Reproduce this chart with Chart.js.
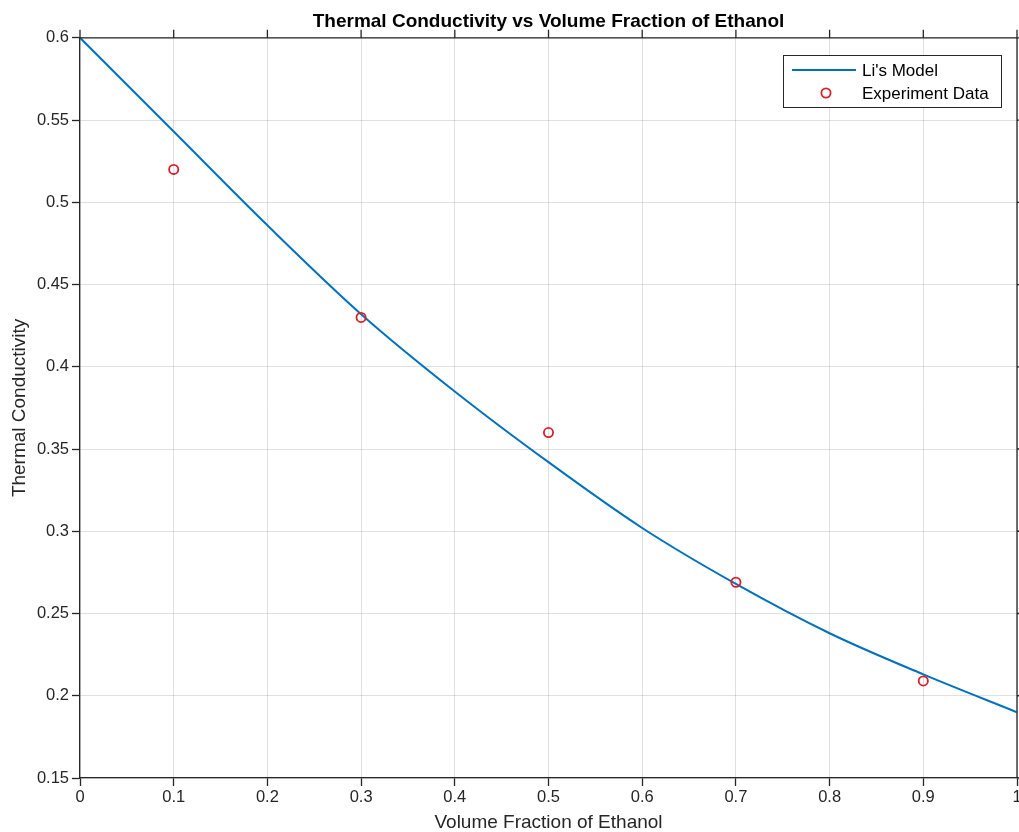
<!DOCTYPE html>
<html><head><meta charset="utf-8">
<script src="https://cdn.jsdelivr.net/npm/chart.js@4/dist/chart.umd.min.js"></script>
<style>html,body{margin:0;padding:0;background:#fff;}#wrap{width:1019px;height:832px;}</style>
</head><body><div id="wrap"><canvas id="c" width="1019" height="832"></canvas></div>
<script>
const modelX = [0, 0.1, 0.2, 0.3, 0.4, 0.5, 0.6, 0.7, 0.8, 0.9, 1.0];
const modelY = [0.600, 0.543, 0.486, 0.432, 0.385, 0.342, 0.302, 0.268, 0.238, 0.213, 0.190];
const expX = [0.1, 0.3, 0.5, 0.7, 0.9];
const expY = [0.520, 0.430, 0.360, 0.269, 0.209];
const xTicks = [0, 0.1, 0.2, 0.3, 0.4, 0.5, 0.6, 0.7, 0.8, 0.9, 1];
const yTicks = [0.15, 0.2, 0.25, 0.3, 0.35, 0.4, 0.45, 0.5, 0.55, 0.6];
const seriesNames = ["Li's Model", "Experiment Data"];
const titleText = 'Thermal Conductivity vs Volume Fraction of Ethanol';
const xLabel = 'Volume Fraction of Ethanol';
const yLabel = 'Thermal Conductivity';

const FONT = '"Liberation Sans", Arial, Helvetica, sans-serif';
const BLUE = '#0072BD';
const RED = '#D9202A';
const AX = '#262626';
const GRID = 'rgba(0,0,0,0.12)';
const noPad = () => ({left: 0, right: 0, top: 0, bottom: 0});

const boxPlugin = {
  id: 'box',
  afterDraw(chart) {
    const ctx = chart.ctx, a = chart.chartArea;
    const xs = chart.scales.x, ys = chart.scales.y;
    ctx.save();
    ctx.strokeStyle = AX; ctx.lineWidth = 1.3;
    ctx.beginPath();
    ctx.moveTo(a.left, a.top); ctx.lineTo(a.right, a.top);
    ctx.moveTo(a.right, a.top); ctx.lineTo(a.right, a.bottom);
    xTicks.forEach(v => { const px = xs.getPixelForValue(v); ctx.moveTo(px, a.top); ctx.lineTo(px, a.top - 8); });
    yTicks.forEach(v => { const py = ys.getPixelForValue(v); ctx.moveTo(a.right, py); ctx.lineTo(a.right + 8, py); });
    ctx.stroke();
    // legend
    const lx = 783, ly = 55, lw = 218, lh = 52;
    ctx.fillStyle = '#fff'; ctx.fillRect(lx, ly, lw, lh);
    ctx.strokeStyle = AX; ctx.lineWidth = 1;
    ctx.strokeRect(lx + 0.5, ly + 0.5, lw, lh);
    ctx.strokeStyle = BLUE; ctx.lineWidth = 2;
    ctx.beginPath(); ctx.moveTo(792, 70); ctx.lineTo(856, 70); ctx.stroke();
    ctx.strokeStyle = RED; ctx.lineWidth = 1.8;
    ctx.beginPath(); ctx.arc(826, 93, 4.6, 0, Math.PI * 2); ctx.stroke();
    ctx.fillStyle = '#000'; ctx.font = '17px ' + FONT; ctx.textBaseline = 'middle'; ctx.textAlign = 'left';
    ctx.fillText(seriesNames[0], 862, 71);
    ctx.fillText(seriesNames[1], 862, 94);
    ctx.restore();
  }
};

new Chart(document.getElementById('c'), {
  type: 'scatter',
  data: {
    datasets: [
      {
        label: seriesNames[0], type: 'line',
        data: modelX.map((x, i) => ({x, y: modelY[i]})),
        borderColor: BLUE, borderWidth: 2, pointRadius: 0, showLine: true,
        cubicInterpolationMode: 'monotone', fill: false, order: 2
      },
      {
        label: seriesNames[1],
        data: expX.map((x, i) => ({x, y: expY[i]})),
        borderColor: RED, backgroundColor: 'rgba(0,0,0,0)', pointRadius: 4.6, pointBorderWidth: 1.8,
        pointHoverRadius: 4.6, order: 1
      }
    ]
  },
  options: {
    responsive: false, animation: false, events: [],
    layout: { autoPadding: false, padding: { top: 0, right: 2, left: 0, bottom: 0 } },
    plugins: {
      legend: { display: false }, tooltip: { enabled: false },
      title: {
        display: true, text: titleText, fullSize: false, color: '#000',
        font: { family: FONT, size: 19, weight: 'bold', lineHeight: 1.2 },
        padding: { top: 10, bottom: 5 }
      }
    },
    scales: {
      x: {
        type: 'linear', min: 0, max: 1,
        afterBuildTicks: s => { s.ticks = xTicks.map(v => ({value: v})); },
        afterFit: s => { s.height = 54; s.paddingLeft = 0; s.paddingRight = 0; s.getPadding = noPad; },
        ticks: { color: AX, font: { family: FONT, size: 16.5 }, padding: 2, maxRotation: 0,
                 callback: v => String(v) },
        grid: { color: GRID, tickColor: AX, tickLength: 8, lineWidth: 1, tickWidth: 1.3 },
        border: { color: AX, width: 1.3 },
        title: { display: true, text: xLabel, color: AX, font: { family: FONT, size: 19, lineHeight: 1.2 }, padding: { top: 0, bottom: -2 } }
      },
      y: {
        type: 'linear', min: 0.15, max: 0.6,
        afterBuildTicks: s => { s.ticks = yTicks.map(v => ({value: v})); },
        afterFit: s => { s.width = 80; s.paddingTop = 0; s.paddingBottom = 0; s.getPadding = noPad; },
        ticks: { color: AX, font: { family: FONT, size: 16.5 }, padding: 3,
                 callback: v => String(v) },
        grid: { color: GRID, tickColor: AX, tickLength: 8, lineWidth: 1, tickWidth: 1.3 },
        border: { color: AX, width: 1.3 },
        title: { display: true, text: yLabel, color: AX, font: { family: FONT, size: 19, lineHeight: 1.2 }, padding: { top: 8, bottom: 0 } }
      }
    }
  },
  plugins: [boxPlugin]
});
</script></body></html>
